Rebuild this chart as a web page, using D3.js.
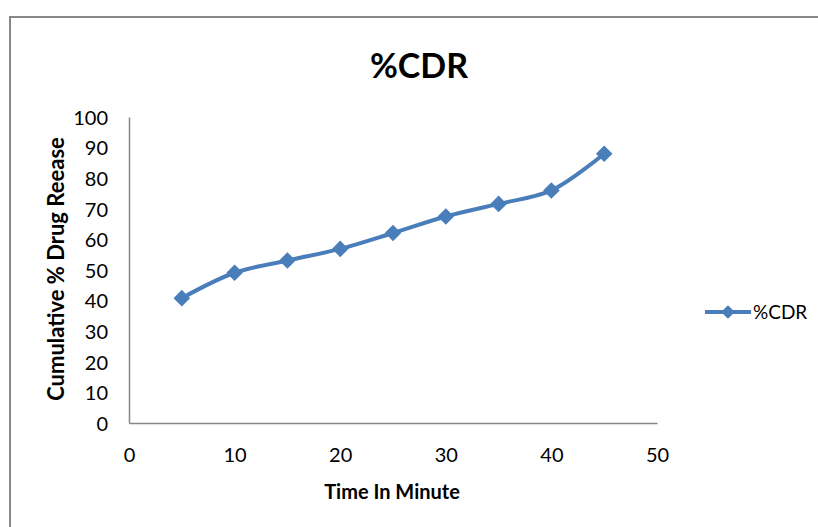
<!DOCTYPE html>
<html>
<head>
<meta charset="utf-8">
<script src="https://cdn.jsdelivr.net/npm/d3@7"></script>
<style>
  body { margin: 0; background: #fff; }
  text { font-family: Lato, "Open Sans", sans-serif; fill: #000; }
</style>
</head>
<body>
<div id="chart"></div>
<script>
// data
const times = [5, 10, 15, 20, 25, 30, 35, 40, 45];
const cdr = [40.8, 49.1, 53.1, 56.9, 62.1, 67.5, 71.6, 76.0, 88.0];
const xTicks = [0, 10, 20, 30, 40, 50];
const yTicks = [0, 10, 20, 30, 40, 50, 60, 70, 80, 90, 100];
const seriesName = "%CDR";

const width = 818, height = 527
, margin = {top: 117, right: 161, bottom: 104, left: 129}
, innerWidth = width - margin.left - margin.right
, innerHeight = height - margin.top - margin.bottom
, lineColor = "#4a7ebb"
, axisColor = "#868686";

const svg = d3.select("#chart").append("svg")
  .attr("width", width)
  .attr("height", height);

// outer chart frame
svg.append("rect")
  .attr("x", 10).attr("y", 17)
  .attr("width", width + 20).attr("height", height + 20)
  .attr("fill", "none")
  .attr("stroke", "#878787")
  .attr("stroke-width", 2);

const xScale = d3.scaleLinear().domain([0, 50]).range([0, innerWidth]);
const yScale = d3.scaleLinear().domain([0, 100]).range([innerHeight, 0]);

const g = svg.append("g")
  .attr("transform", `translate(${margin.left},${margin.top})`);

const yAxis = d3.axisLeft(yScale).tickValues(yTicks).tickSize(0).tickPadding(21);
const xAxis = d3.axisBottom(xScale).tickValues(xTicks).tickSize(0).tickPadding(25);

const yAxisG = g.append("g").call(yAxis);
const xAxisG = g.append("g").attr("transform", `translate(0,${innerHeight})`).call(xAxis);

[yAxisG, xAxisG].forEach(a => {
  a.select(".domain").attr("stroke", axisColor).attr("stroke-width", 1.5);
  a.selectAll(".tick text")
    .style("font-size", "20px")
    .style("font-family", "Lato, 'Open Sans', sans-serif")
    .attr("fill", "#000");
});
yAxisG.selectAll(".tick text").attr("dy", "0.36em");

// axis titles
g.append("text")
  .attr("transform", `translate(${56 - margin.left},${innerHeight / 2 - 1}) rotate(-90)`)
  .attr("text-anchor", "middle")
  .attr("dy", "0.35em")
  .style("font-size", "22px")
  .style("font-weight", "bold")
  .text("Cumulative % Drug Reease");

g.append("text")
  .attr("x", xScale(25) - 1)
  .attr("y", innerHeight + 76)
  .attr("text-anchor", "middle")
  .style("font-size", "20px")
  .style("font-weight", "bold")
  .text("Time In Minute");

// title
svg.append("text")
  .attr("x", 419)
  .attr("y", 78)
  .attr("text-anchor", "middle")
  .style("font-size", "34px")
  .style("font-weight", "bold")
  .text(seriesName);

// series
const points = times.map((t, i) => ({x: t, y: cdr[i]}));

const line = d3.line()
  .x(d => xScale(d.x))
  .y(d => yScale(d.y))
  .curve(d3.curveCatmullRom.alpha(0.5));

g.append("path")
  .attr("d", line(points))
  .attr("fill", "none")
  .attr("stroke", lineColor)
  .attr("stroke-width", 4)
  .attr("stroke-linejoin", "round");

const diamond = d3.symbol().type(d3.symbolDiamond2).size(175);

g.selectAll(".marker")
  .data(points)
  .join("path")
  .attr("class", "marker")
  .attr("transform", d => `translate(${xScale(d.x)},${yScale(d.y)})`)
  .attr("d", diamond)
  .attr("fill", lineColor);

// legend
const legend = svg.append("g").attr("transform", "translate(705,312)");
legend.append("line")
  .attr("x1", 0).attr("x2", 46)
  .attr("stroke", lineColor)
  .attr("stroke-width", 4);
legend.append("path")
  .attr("transform", "translate(23,0)")
  .attr("d", d3.symbol().type(d3.symbolDiamond2).size(120))
  .attr("fill", lineColor);
legend.append("text")
  .attr("x", 48)
  .attr("dy", "0.35em")
  .style("font-size", "19px")
  .text(seriesName);
</script>
</body>
</html>
